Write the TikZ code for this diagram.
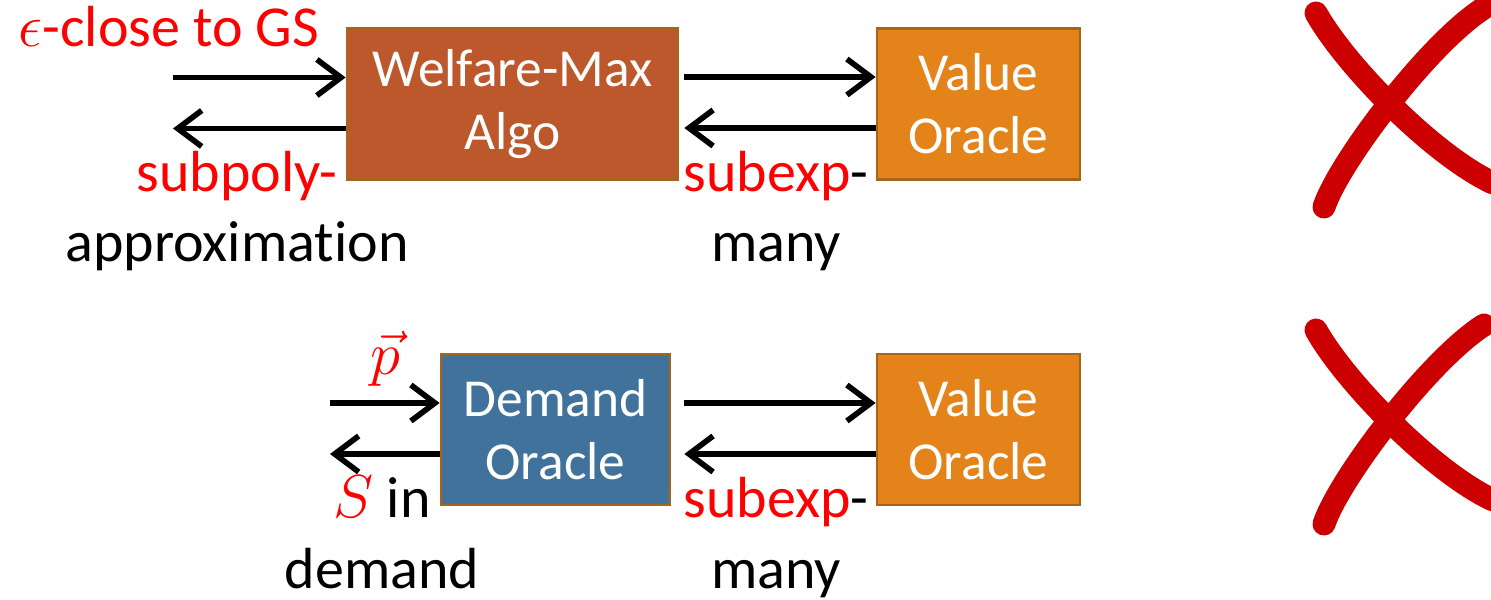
\documentclass[tikz,border=0pt]{standalone}
\usepackage{fontspec}
\setmainfont{Carlito}[Ligatures=NoCommon]
\usetikzlibrary{arrows.meta,positioning}

\definecolor{welfarefill}{RGB}{188,88,44}
\definecolor{valuefill}{RGB}{227,131,26}
\definecolor{demandfill}{RGB}{65,114,156}
\definecolor{boxline}{RGB}{166,102,26}
\definecolor{crossred}{RGB}{204,0,0}

\tikzset{
  oracle/.style={draw=boxline, line width=0.8pt, rectangle, text=white, align=center,
    minimum height=1.51cm, inner sep=0pt, font=\fontsize{15.2}{18}\selectfont},
  flow/.style={-{Straight Barb[length=0.24cm,width=0.36cm]}, line width=1.6pt},
  lbl/.style={align=center, inner sep=0pt, anchor=base},
  cross/.style={crossred, line width=0.23cm, line cap=round},
}

\begin{document}
\begin{tikzpicture}
				\fontsize{16.5}{20}\selectfont
				\useasboundingbox (0,0) rectangle (14.91,6);
				% upper row
				\node (welfare) at (5.125,4.96) [oracle, fill=welfarefill, minimum width=3.31cm] {Welfare-Max\\Algo};
				\node (valueA) at (9.785,4.96) [oracle, fill=valuefill, minimum width=2.03cm] {Value\\Oracle};
				\coordinate (inA) at (1.73,5.225);
				\coordinate (outA) at (1.73,4.715);
				\draw [flow] (inA) -- (inA -| welfare.west);
				\draw [flow] (outA -| welfare.west) -- (outA);
				\draw [flow] ([xshift=0.05cm,yshift=0.27cm]welfare.east) -- ([yshift=0.27cm]valueA.west);
				\draw [flow] ([yshift=-0.24cm]valueA.west) -- ([xshift=0.05cm,yshift=-0.24cm]welfare.east);
				
				\node (epsilon) at (1.69,5.53) [lbl, red] {$\epsilon$-close to GS};
				\node (approx) at (2.37,3.38) [lbl] {\textcolor{red}{subpoly-}\\approximation};
				\node (manyA) at (7.76,3.38) [lbl] {\textcolor{red}{subexp}-\\many};
				
				% lower row
				\node (demand) at (5.555,1.705) [oracle, fill=demandfill, minimum width=2.29cm] {Demand\\Oracle};
				\node (valueB) at (9.785,1.705) [oracle, fill=valuefill, minimum width=2.03cm] {Value\\Oracle};
				\coordinate (inB) at (3.30,1.97);
				\coordinate (outB) at (3.30,1.46);
				\draw [flow] (inB) -- (inB -| demand.west);
				\draw [flow] (outB -| demand.west) -- (outB);
				\draw [flow] ([xshift=0.13cm,yshift=0.265cm]demand.east) -- ([yshift=0.265cm]valueB.west);
				\draw [flow] ([yshift=-0.245cm]valueB.west) -- ([xshift=0.13cm,yshift=-0.245cm]demand.east);
				
				\node (price) at (3.85,2.25) [lbl, red] {$\vec{p}$};
				\node (bundle) at (3.82,0.12) [lbl] {\textcolor{red}{$S$} in\\demand};
				\node (manyB) at (7.76,0.12) [lbl] {\textcolor{red}{subexp}-\\many};
				
				% the two crosses
				\foreach \dy in {0,-3.17} {
					\draw [cross, yshift=\dy cm] (13.16,5.87) .. controls (13.45,5.35) and (14.33,4.45) .. (14.93,4.17);
					\draw [cross, yshift=\dy cm] (14.84,5.92) .. controls (14.29,5.57) and (13.39,4.38) .. (13.24,3.93);
				}
			\end{tikzpicture}
\end{document}
